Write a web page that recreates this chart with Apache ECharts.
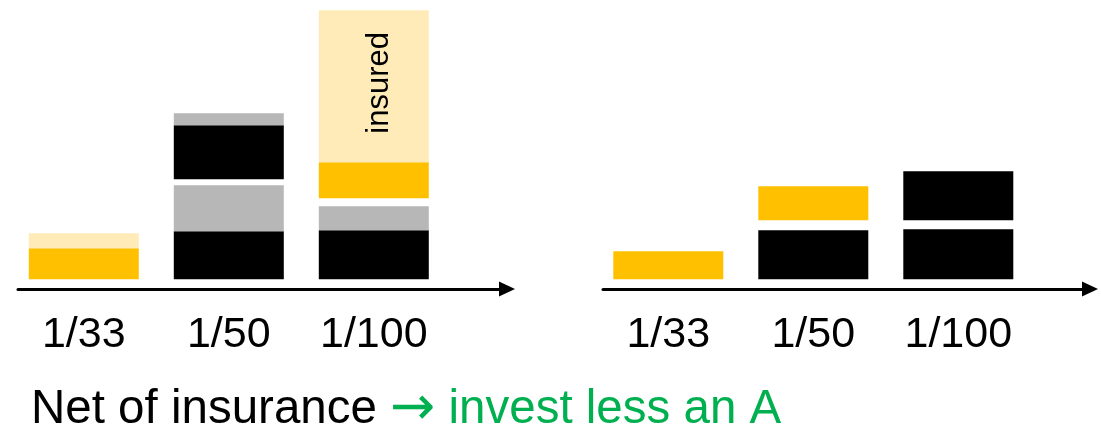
<!DOCTYPE html>
<html>
<head>
<meta charset="utf-8">
<script src="https://cdn.jsdelivr.net/npm/echarts@6/dist/echarts.min.js"></script>
<style>
  html, body { margin: 0; padding: 0; background: #ffffff; }
  #chart { width: 1101px; height: 431px; }
</style>
</head>
<body>
<div id="chart"></div>
<script>
// ---- data (heights, same arbitrary unit in both panels) ----
const categories = ['1/33', '1/50', '1/100'];

// left panel (gross, with insurance)
const grossBlackLow  = [0, 48, 49];
const grossGrayLow   = [0, 46, 24];
const grossGap       = [0, 6, 8];
const grossBlackHigh = [0, 54, 0];
const grossOrange    = [31, 0, 36];
const grossGrayTop   = [0, 12, 0];
const grossInsured   = [15, 0, 152];
const insuredLabels  = ['', '', 'insured'];

// right panel (net of insurance)
const netBlackLow  = [0, 49, 50];
const netGap       = [0, 10, 9];
const netOrange    = [28, 34, 0];
const netBlackHigh = [0, 0, 49];

const captionBlack = 'Net of insurance ';
const captionArrow = '\u2192';
const captionGreen = ' invest less an A';

// ---- styles ----
const BLACK = '#000000';
const GRAY = '#B7B7B7';
const ORANGE = '#FFC000';
const LIGHT = '#FEEBB7';
const GREEN = '#00B050';
const FONT = 'Liberation Sans, Arial, sans-serif';

const chart = echarts.init(document.getElementById('chart'), null, { renderer: 'canvas' });

function bar(name, data, color, stack, axisIdx, extra) {
  return Object.assign({
    name: name,
    type: 'bar',
    stack: stack,
    xAxisIndex: axisIdx,
    yAxisIndex: axisIdx,
    data: data,
    barWidth: 110,
    itemStyle: { color: color },
    emphasis: { disabled: true },
    silent: true
  }, extra || {});
}

const catAxis = (gi) => ({
  type: 'category',
  gridIndex: gi,
  data: categories,
  axisLine: { show: false },
  axisTick: { show: false },
  axisLabel: { color: '#000', fontSize: 43, fontFamily: FONT, margin: 34, lineHeight: 43 }
});
const valAxis = (gi) => ({
  type: 'value', gridIndex: gi, min: 0, max: 270, show: false
});
const arrowX = (gi) => ({
  type: 'value', gridIndex: gi, min: 0, max: 1,
  axisLine: { show: true, lineStyle: { color: '#000', width: 3 }, symbol: ['none', 'triangle'], symbolSize: [15, 16] },
  axisTick: { show: false }, axisLabel: { show: false }, splitLine: { show: false }
});
const arrowY = (gi) => ({ type: 'value', gridIndex: gi, show: false });

chart.setOption({
  animation: false,
  backgroundColor: '#ffffff',
  title: {
    left: 31, top: 386, padding: 0,
    text: '{a|' + captionBlack + '}{c|' + captionArrow + '}{b|' + captionGreen + '}',
    textStyle: {
      fontWeight: 'normal',
      rich: {
        a: { color: BLACK, fontSize: 47.5, fontFamily: FONT, fontWeight: 'normal', lineHeight: 47 },
        c: { color: GREEN, fontSize: 54, fontFamily: 'DejaVu Sans, sans-serif', fontWeight: 'normal', lineHeight: 47 },
        b: { color: GREEN, fontSize: 47.5, fontFamily: FONT, fontWeight: 'normal', lineHeight: 47 }
      }
    }
  },
  grid: [
    { left: 11.3, width: 435, top: 9.3, bottom: 151.7 },
    { left: 595.8, width: 435, top: 9.3, bottom: 151.7 },
    { left: 18, width: 489, bottom: 142, height: 20 },
    { left: 603, width: 487, bottom: 142, height: 20 }
  ],
  xAxis: [catAxis(0), catAxis(1), arrowX(2), arrowX(3)],
  yAxis: [valAxis(0), valAxis(1), arrowY(2), arrowY(3)],
  series: [
    bar('gross black low', grossBlackLow, BLACK, 'L', 0),
    bar('gross gray low', grossGrayLow, GRAY, 'L', 0),
    bar('gross gap', grossGap, 'rgba(0,0,0,0)', 'L', 0),
    bar('gross black high', grossBlackHigh, BLACK, 'L', 0),
    bar('gross orange', grossOrange, ORANGE, 'L', 0),
    bar('gross gray top', grossGrayTop, GRAY, 'L', 0),
    bar('gross insured', grossInsured, LIGHT, 'L', 0, {
      label: {
        show: true, position: 'inside', rotate: 90,
        formatter: (p) => insuredLabels[p.dataIndex],
        color: '#000', fontSize: 31, fontFamily: FONT,
        offset: [3.5, 6]
      }
    }),
    bar('net black low', netBlackLow, BLACK, 'R', 1),
    bar('net gap', netGap, 'rgba(0,0,0,0)', 'R', 1),
    bar('net orange', netOrange, ORANGE, 'R', 1),
    bar('net black high', netBlackHigh, BLACK, 'R', 1)
  ]
});
</script>
</body>
</html>
